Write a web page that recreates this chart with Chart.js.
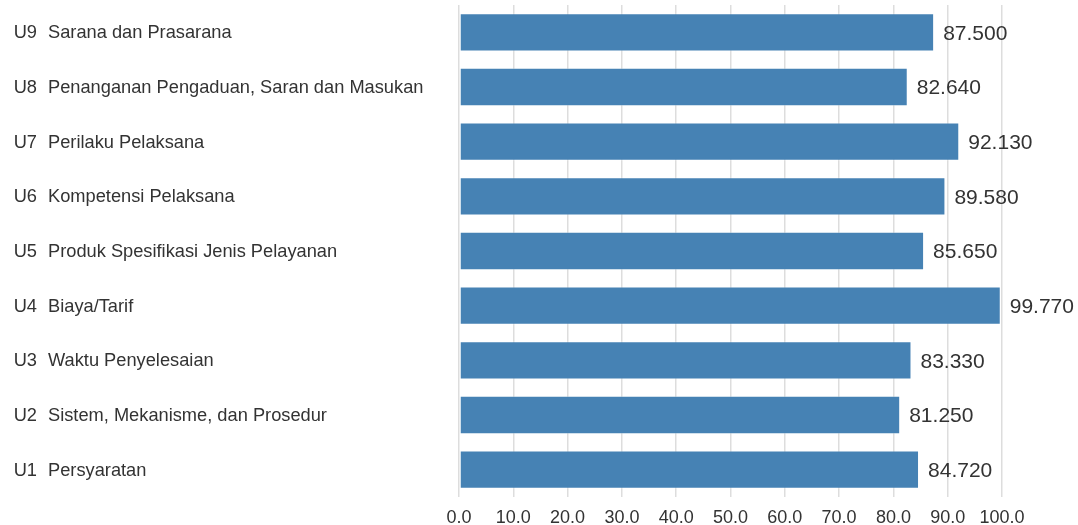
<!DOCTYPE html>
<html>
<head>
<meta charset="utf-8">
<script src="https://cdn.jsdelivr.net/npm/chart.js@4/dist/chart.umd.min.js"></script>
<style>
  html, body { margin: 0; padding: 0; background: #ffffff; }
  #wrap { width: 1078px; height: 525px; position: relative; }
</style>
</head>
<body>
<div id="wrap"><canvas id="c"></canvas></div>
<script>
const codes = ["U9", "U8", "U7", "U6", "U5", "U4", "U3", "U2", "U1"];
const names = [
  "Sarana dan Prasarana",
  "Penanganan Pengaduan, Saran dan Masukan",
  "Perilaku Pelaksana",
  "Kompetensi Pelaksana",
  "Produk Spesifikasi Jenis Pelayanan",
  "Biaya/Tarif",
  "Waktu Penyelesaian",
  "Sistem, Mekanisme, dan Prosedur",
  "Persyaratan"
];
const values = [87.5, 82.64, 92.13, 89.58, 85.65, 99.77, 83.33, 81.25, 84.72];
const xTicks = [0, 10, 20, 30, 40, 50, 60, 70, 80, 90, 100];

const FONT = "'Liberation Sans', Arial, Helvetica, sans-serif";
const TEXT = "#333333";

const labelPlugin = {
  id: 'twoColLabels',
  afterDraw(chart) {
    const ctx = chart.ctx;
    const y = chart.scales.y;
    ctx.save();
    ctx.font = "18.25px " + FONT;
    ctx.fillStyle = TEXT;
    ctx.textBaseline = 'middle';
    codes.forEach((c, i) => {
      const py = y.getPixelForValue(i) + 1;
      ctx.textAlign = 'right';
      ctx.fillText(c, 37, py);
      ctx.textAlign = 'left';
      ctx.fillText(names[i], 48, py);
    });
    ctx.restore();
  }
};

const valuePlugin = {
  id: 'valueLabels',
  afterDatasetsDraw(chart) {
    const ctx = chart.ctx;
    const meta = chart.getDatasetMeta(0);
    ctx.save();
    ctx.font = "21px " + FONT;
    ctx.fillStyle = TEXT;
    ctx.textAlign = 'left';
    ctx.textBaseline = 'middle';
    meta.data.forEach((bar, i) => {
      ctx.fillText(values[i].toFixed(3), bar.x + 9, bar.y + 1.5);
    });
    ctx.restore();
  }
};

new Chart(document.getElementById('c'), {
  type: 'bar',
  data: {
    labels: codes.map((c, i) => c + "  " + names[i]),
    datasets: [{
      data: values,
      backgroundColor: '#4682B4',
      borderColor: 'rgba(255,255,255,0.35)',
      borderWidth: 1,
      borderSkipped: false,
      barPercentage: 0.7,
      categoryPercentage: 1.0
    }]
  },
  options: {
    indexAxis: 'y',
    responsive: true,
    maintainAspectRatio: false,
    animation: false,
    layout: { padding: { left: 451, right: 76, top: 5, bottom: 0 } },
    plugins: {
      legend: { display: false },
      tooltip: { enabled: false }
    },
    scales: {
      x: {
        min: 0,
        max: 100,
        afterBuildTicks(axis) { axis.ticks = xTicks.map(v => ({ value: v })); },
        afterFit(axis) { axis.height = 28; },
        grid: { color: '#dddddd', lineWidth: 1.5, drawTicks: false },
        border: { display: false },
        ticks: {
          padding: 10,
          color: TEXT,
          font: { family: FONT, size: 18 },
          callback: v => Number(v).toFixed(1)
        }
      },
      y: {
        grid: { display: false },
        border: { display: false },
        ticks: { display: false }
      }
    }
  },
  plugins: [labelPlugin, valuePlugin]
});
</script>
</body>
</html>
